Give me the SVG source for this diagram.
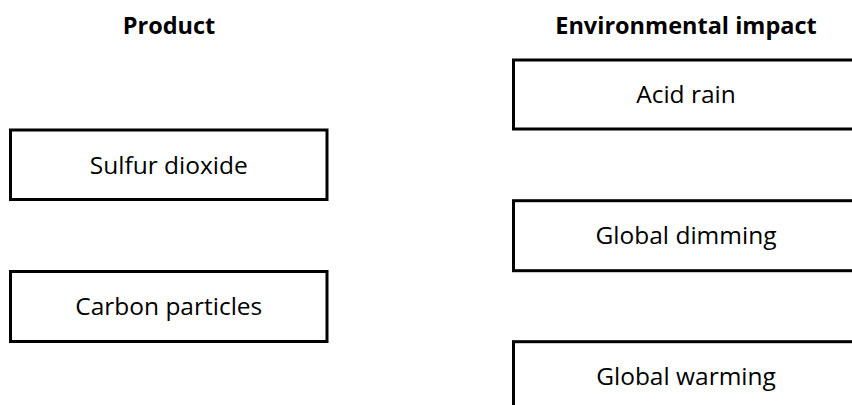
<svg xmlns="http://www.w3.org/2000/svg" width="852" height="405" viewBox="0 0 852 405">
  <style>
    .box { fill: #ffffff; stroke: #000000; stroke-width: 3; }
    .head { font-family: "Open Sans", "Liberation Sans", sans-serif; font-weight: bold; font-size: 23.5px; fill: #000; text-anchor: middle; }
    .lbl { font-family: "Open Sans", "Liberation Sans", sans-serif; font-size: 24.5px; fill: #000; text-anchor: middle; }
  </style>
  <rect width="852" height="405" fill="#ffffff"/>
  <g id="headings">
    <text class="head" x="169" y="34">Product</text>
    <text class="head" x="686" y="34">Environmental impact</text>
  </g>
  <g id="acid-rain">
    <rect class="box" x="513.5" y="60" width="350" height="69"/>
    <text class="lbl" x="686" y="103">Acid rain</text>
  </g>
  <g id="sulfur-dioxide">
    <rect class="box" x="10.5" y="130" width="316.5" height="69.5"/>
    <text class="lbl" x="168.75" y="173.5">Sulfur dioxide</text>
  </g>
  <g id="global-dimming">
    <rect class="box" x="513.5" y="200.7" width="350" height="70"/>
    <text class="lbl" x="686" y="244.4">Global dimming</text>
  </g>
  <g id="carbon-particles">
    <rect class="box" x="10.5" y="271.5" width="316.5" height="70"/>
    <text class="lbl" x="168.75" y="315">Carbon particles</text>
  </g>
  <g id="global-warming">
    <rect class="box" x="513.5" y="341.7" width="350" height="80"/>
    <text class="lbl" x="686" y="385.4">Global warming</text>
  </g>
  <g id="connectors"></g>
</svg>
